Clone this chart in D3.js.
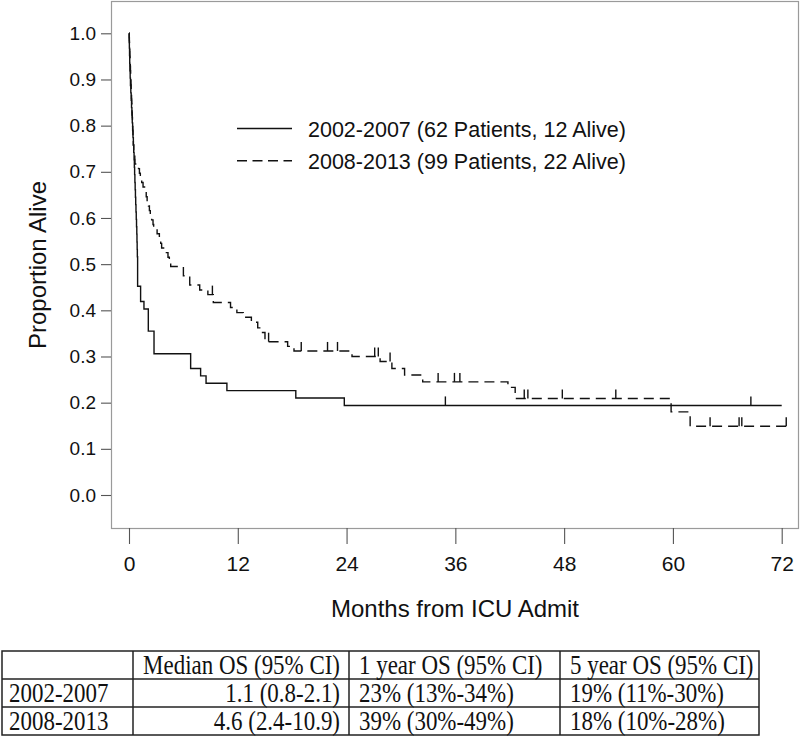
<!DOCTYPE html>
<html>
<head>
<meta charset="utf-8">
<script src="https://cdn.jsdelivr.net/npm/d3@7"></script>
<style>
  html, body { margin: 0; padding: 0; background: #fff; }
  svg { display: block; }
</style>
</head>
<body>
<svg id="chart" width="800" height="736"></svg>
<script>
// ---------------- data ----------------
const timeTicks = [0, 12, 24, 36, 48, 60, 72];
const survTicks = [0, 0.1, 0.2, 0.3, 0.4, 0.5, 0.6, 0.7, 0.8, 0.9, 1.0];

const seriesNames = ["2002-2007 (62 Patients, 12 Alive)", "2008-2013 (99 Patients, 22 Alive)"];

// 2002-2007 : step times (months) and survival after each step
const s1Times = [0, 0.02, 0.04, 0.06, 0.08, 0.10, 0.13, 0.16, 0.20, 0.24, 0.28, 0.32, 0.36, 0.40, 0.44,
  0.48, 0.52, 0.56, 0.59, 0.62, 0.65, 0.68, 0.71, 0.74, 0.77, 0.80, 0.83, 0.86, 0.88, 0.90, 0.92,
  0.95, 1.28, 1.65, 2.13, 2.76, 6.8, 7.9, 8.5, 10.8, 18.4, 23.75];
const s1Surv = [1.0, 0.984, 0.968, 0.952, 0.935, 0.919, 0.903, 0.887, 0.871, 0.855, 0.839, 0.823, 0.806, 0.790, 0.774,
  0.758, 0.742, 0.726, 0.710, 0.694, 0.677, 0.661, 0.645, 0.629, 0.613, 0.597, 0.581, 0.565, 0.548, 0.532, 0.516,
  0.452, 0.419, 0.403, 0.355, 0.306, 0.274, 0.258, 0.242, 0.226, 0.210, 0.194];
const s1Censor = [34.9, 68.6];
const s1End = 72;

// 2008-2013
const s2Times = [0, 0.02, 0.04, 0.06, 0.08, 0.10, 0.12, 0.14, 0.16, 0.18, 0.20, 0.22, 0.24, 0.26, 0.28,
  0.30, 0.32, 0.34, 0.36, 0.38, 0.40, 0.42, 0.44, 0.46, 0.48, 0.52, 0.58, 0.64, 0.66,
  1.05, 1.15, 1.25, 1.40, 1.55, 1.80, 1.90, 2.00, 2.15, 2.25, 2.35, 2.50, 2.65, 2.72,
  3.10, 3.35, 3.50, 3.60, 4.00, 4.30, 4.45, 4.60, 6.0, 6.7, 7.8, 8.7, 9.3,
  11.2, 11.9, 12.6, 13.5, 14.2, 14.6, 15.0, 17.5, 18.2, 24.6, 27.7, 29.0, 30.4, 32.4,
  41.8, 42.6, 59.8, 61.9];
const s2Surv = [1.0, 0.990, 0.980, 0.970, 0.960, 0.949, 0.939, 0.929, 0.919, 0.909, 0.899, 0.889, 0.879, 0.869, 0.859,
  0.848, 0.838, 0.828, 0.818, 0.808, 0.798, 0.788, 0.778, 0.768, 0.758, 0.747, 0.737, 0.727, 0.717,
  0.707, 0.697, 0.687, 0.677, 0.667, 0.657, 0.646, 0.636, 0.626, 0.616, 0.606, 0.596, 0.586, 0.576,
  0.566, 0.556, 0.545, 0.535, 0.525, 0.515, 0.505, 0.495, 0.475, 0.455, 0.444, 0.434, 0.417,
  0.406, 0.395, 0.385, 0.374, 0.362, 0.352, 0.332, 0.322, 0.312, 0.300, 0.289, 0.274, 0.260, 0.245,
  0.233, 0.209, 0.180, 0.149];
const s2Censor = [9.2, 15.4, 19.0, 21.9, 23.0, 27.1, 27.5, 28.8, 34.1, 35.9, 36.5, 43.6, 44.0, 47.8, 53.7, 64.1, 67.3, 67.6, 72.5];
const s2End = 72.5;

// table
const tableHeader = ["", "Median OS (95% CI)", "1 year OS (95% CI)", "5 year OS (95% CI)"];
const tableRow1 = ["2002-2007", "1.1 (0.8-2.1)", "23% (13%-34%)", "19% (11%-30%)"];
const tableRow2 = ["2008-2013", "4.6 (2.4-10.9)", "39% (30%-49%)", "18% (10%-28%)"];

// ---------------- drawing ----------------
const svg = d3.select("#chart");
const box = { left: 111, right: 799, top: 1, bottom: 528 };

const x = d3.scaleLinear().domain([0, 72]).range([129, 781.7]);
const y = d3.scaleLinear().domain([0, 1]).range([495, 33.3]);

const sans = "'Liberation Sans', Arial, sans-serif";
const serif = "'Liberation Serif', 'Times New Roman', serif";

// plot box
svg.append("rect")
  .attr("x", box.left + 0.5).attr("y", box.top + 0.5)
  .attr("width", box.right - box.left - 1).attr("height", box.bottom - box.top)
  .attr("fill", "none").attr("stroke", "#9a9a9a").attr("stroke-width", 1.2);

// y axis
const yAxis = d3.axisLeft(y).tickValues(survTicks).tickFormat(d3.format(".1f")).tickSize(10).tickPadding(5);
const gy = svg.append("g").attr("transform", `translate(${box.left},0)`).call(yAxis);
gy.select(".domain").remove();
gy.selectAll(".tick line").attr("stroke", "#555").attr("stroke-width", 1.1);
gy.selectAll(".tick text").attr("font-family", sans).attr("font-size", 19).attr("fill", "#111");

// x axis
const xAxis = d3.axisBottom(x).tickValues(timeTicks).tickFormat(d3.format("d")).tickSize(16).tickPadding(12);
const gx = svg.append("g").attr("transform", `translate(0,${box.bottom})`).call(xAxis);
gx.select(".domain").remove();
gx.selectAll(".tick line").attr("stroke", "#555").attr("stroke-width", 1.1);
gx.selectAll(".tick text").attr("font-family", sans).attr("font-size", 21).attr("fill", "#111");

// axis titles
svg.append("text")
  .attr("x", (box.left + box.right) / 2).attr("y", 617)
  .attr("text-anchor", "middle").attr("font-family", sans).attr("font-size", 24).attr("fill", "#111")
  .text("Months from ICU Admit");
svg.append("text")
  .attr("transform", "translate(46,265) rotate(-90)")
  .attr("text-anchor", "middle").attr("font-family", sans).attr("font-size", 24).attr("fill", "#111")
  .text("Proportion Alive");

// curves
function stepPoints(times, surv, end) {
  const pts = times.map((t, i) => [t, surv[i]]);
  pts.push([end, surv[surv.length - 1]]);
  return pts;
}
function survAt(times, surv, t) {
  let v = surv[0];
  for (let i = 0; i < times.length; i++) { if (times[i] <= t) v = surv[i]; }
  return v;
}
const line = d3.line().x(d => x(d[0])).y(d => y(d[1])).curve(d3.curveStepAfter);

const series = [
  { times: s1Times, surv: s1Surv, censor: s1Censor, end: s1End, dash: null },
  { times: s2Times, surv: s2Surv, censor: s2Censor, end: s2End, dash: "10,6" }
];

series.forEach(s => {
  svg.append("path")
    .datum(stepPoints(s.times, s.surv, s.end))
    .attr("d", line)
    .attr("fill", "none").attr("stroke", "#111").attr("stroke-width", 1.4)
    .attr("stroke-dasharray", s.dash);
  svg.append("g").selectAll("line").data(s.censor).join("line")
    .attr("x1", d => x(d)).attr("x2", d => x(d))
    .attr("y1", d => y(survAt(s.times, s.surv, d)))
    .attr("y2", d => y(survAt(s.times, s.surv, d)) - 9)
    .attr("stroke", "#111").attr("stroke-width", 1.4);
});

// legend
const legend = svg.append("g");
seriesNames.forEach((name, i) => {
  const ly = 128.5 + i * 32.3;
  legend.append("line")
    .attr("x1", 237).attr("x2", 292).attr("y1", ly).attr("y2", ly)
    .attr("stroke", "#111").attr("stroke-width", 1.4)
    .attr("stroke-dasharray", i === 0 ? null : "10,5.5");
  legend.append("text")
    .attr("x", 308).attr("y", ly + 8.5)
    .attr("font-family", sans).attr("font-size", 21.5).attr("fill", "#111")
    .text(name);
});

// table
const colX = [2, 133, 349, 560, 759];
const rowY = [651, 679, 707, 735];
const tbl = svg.append("g");
tbl.append("rect")
  .attr("x", colX[0]).attr("y", rowY[0])
  .attr("width", colX[4] - colX[0]).attr("height", rowY[3] - rowY[0])
  .attr("fill", "none").attr("stroke", "#222").attr("stroke-width", 1.5);
rowY.slice(1, 3).forEach(ry => {
  tbl.append("line").attr("x1", colX[0]).attr("x2", colX[4]).attr("y1", ry).attr("y2", ry)
    .attr("stroke", "#222").attr("stroke-width", 1.5);
});
colX.slice(1, 4).forEach(cx => {
  tbl.append("line").attr("x1", cx).attr("x2", cx).attr("y1", rowY[0]).attr("y2", rowY[3])
    .attr("stroke", "#222").attr("stroke-width", 1.5);
});
const rows = [tableHeader, tableRow1, tableRow2];
rows.forEach((row, r) => {
  const base = (rowY[r] + rowY[r + 1]) / 2 + 9;
  row.forEach((cell, c) => {
    if (!cell) return;
    let tx, anchor;
    if (c === 0) { tx = colX[0] + 7; anchor = "start"; }
    else if (c === 1) { tx = colX[2] - 9; anchor = "end"; }
    else { tx = colX[c] + 10; anchor = "start"; }
    tbl.append("text")
      .attr("transform", `translate(${tx},${base}) scale(0.85,1)`)
      .attr("text-anchor", anchor)
      .attr("font-family", serif).attr("font-size", 27).attr("fill", "#111")
      .text(cell);
  });
});
</script>
</body>
</html>
